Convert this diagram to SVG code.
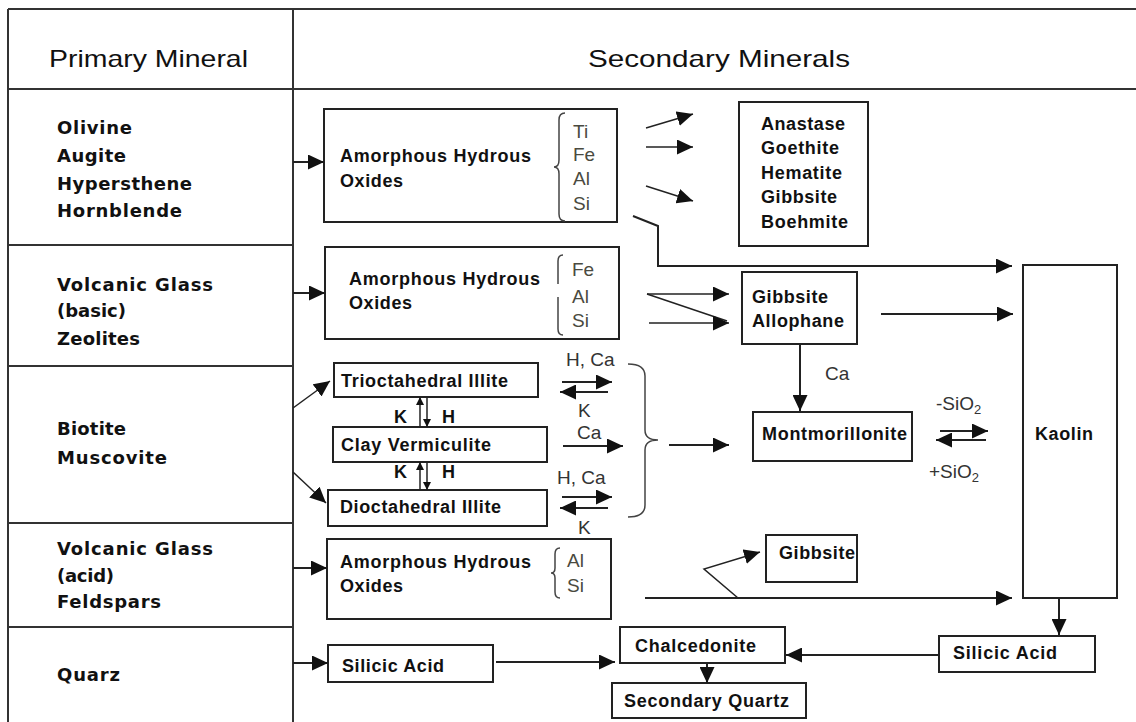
<svg xmlns="http://www.w3.org/2000/svg" width="1136" height="722" viewBox="0 0 1136 722">
<defs>
<marker id="ah" markerUnits="userSpaceOnUse" markerWidth="16" markerHeight="15" refX="16" refY="7.5" orient="auto"><path d="M0,0 L16,7.5 L0,15 z" fill="#111"/></marker>
<marker id="as" markerUnits="userSpaceOnUse" markerWidth="8" markerHeight="8" refX="8" refY="4" orient="auto"><path d="M0,0 L8,4 L0,8 z" fill="#111"/></marker>
</defs>
<style>
.frame{fill:none;stroke:#333;stroke-width:2}
.box{fill:#fff;stroke:#222;stroke-width:2}
.ln{fill:none;stroke:#222;stroke-width:2}
.thin{fill:none;stroke:#222;stroke-width:1.5}
.br{fill:none;stroke:#444;stroke-width:1.5}
.hd{font-family:"Liberation Sans",Arial,sans-serif;font-size:24px;fill:#111}
.pm{font-family:"DejaVu Sans",Verdana,sans-serif;font-weight:bold;font-size:18px;fill:#111}
.bx{font-family:"Liberation Sans",Arial,sans-serif;font-weight:bold;font-size:18px;fill:#111}
.el{font-family:"Liberation Sans",Arial,sans-serif;font-size:19px;fill:#4a4a40}
.lb{font-family:"Liberation Sans",Arial,sans-serif;font-size:19px;fill:#333}
</style>
<rect width="1136" height="722" fill="#fff"/>
<g id="table">
<path class="frame" d="M8,9 L1136,9 M8,89 L1136,89 M8,9 L8,722 M293,9 L293,722 M8,245 L293,245 M8,366 L293,366 M8,523 L293,523 M8,627 L293,627"/>
<text class="hd" x="49" y="67" textLength="199" lengthAdjust="spacingAndGlyphs">Primary Mineral</text>
<text class="hd" x="588" y="67" textLength="262" lengthAdjust="spacingAndGlyphs">Secondary  Minerals</text>
</g>
<g id="primary">
<text class="pm" x="57" y="134" textLength="75" lengthAdjust="spacing">Olivine</text>
<text class="pm" x="57" y="162" textLength="69" lengthAdjust="spacing">Augite</text>
<text class="pm" x="57" y="190" textLength="135" lengthAdjust="spacing">Hypersthene</text>
<text class="pm" x="57" y="217" textLength="125" lengthAdjust="spacing">Hornblende</text>
<text class="pm" x="57" y="291" textLength="156" lengthAdjust="spacing">Volcanic Glass</text>
<text class="pm" x="57" y="317" textLength="69" lengthAdjust="spacing">(basic)</text>
<text class="pm" x="57" y="345" textLength="83" lengthAdjust="spacing">Zeolites</text>
<text class="pm" x="57" y="435" textLength="69" lengthAdjust="spacing">Biotite</text>
<text class="pm" x="57" y="464" textLength="110" lengthAdjust="spacing">Muscovite</text>
<text class="pm" x="57" y="555" textLength="156" lengthAdjust="spacing">Volcanic Glass</text>
<text class="pm" x="57" y="582" textLength="57" lengthAdjust="spacing">(acid)</text>
<text class="pm" x="57" y="608" textLength="104" lengthAdjust="spacing">Feldspars</text>
<text class="pm" x="57" y="681" textLength="63" lengthAdjust="spacing">Quarz</text>
</g>
<g id="oxides1">
<rect class="box" x="324" y="109" width="293" height="113"/>
<text class="bx" x="340" y="162" textLength="191" lengthAdjust="spacing">Amorphous Hydrous</text>
<text class="bx" x="340" y="187" textLength="63" lengthAdjust="spacing">Oxides</text>
<path class="br" d="M565,113 Q559,113 559,120 L559,160 Q559,167 554,167 Q559,167 559,174 L559,214 Q559,221 565,221"/>
<text class="el" x="573" y="138">Ti</text>
<text class="el" x="573" y="161">Fe</text>
<text class="el" x="573" y="185">Al</text>
<text class="el" x="573" y="210">Si</text>
</g>
<g id="iron-oxides">
<rect class="box" x="739" y="102" width="129" height="144"/>
<text class="bx" x="761" y="130" textLength="84" lengthAdjust="spacing">Anastase</text>
<text class="bx" x="761" y="154" textLength="78" lengthAdjust="spacing">Goethite</text>
<text class="bx" x="761" y="179" textLength="81" lengthAdjust="spacing">Hematite</text>
<text class="bx" x="761" y="203" textLength="76" lengthAdjust="spacing">Gibbsite</text>
<text class="bx" x="761" y="228" textLength="87" lengthAdjust="spacing">Boehmite</text>
</g>
<g id="oxides2">
<rect class="box" x="325" y="247" width="294" height="92"/>
<text class="bx" x="349" y="285" textLength="191" lengthAdjust="spacing">Amorphous Hydrous</text>
<text class="bx" x="349" y="309" textLength="63" lengthAdjust="spacing">Oxides</text>
<path class="br" d="M563,255 Q558,255 558,261 L558,284 M558,297 L558,329 Q558,335 563,335"/>
<text class="el" x="572" y="276">Fe</text>
<text class="el" x="572" y="303">Al</text>
<text class="el" x="572" y="327">Si</text>
</g>
<g id="gibbsite-allophane">
<rect class="box" x="742" y="272" width="115" height="72"/>
<text class="bx" x="752" y="303" textLength="76" lengthAdjust="spacing">Gibbsite</text>
<text class="bx" x="752" y="327" textLength="92" lengthAdjust="spacing">Allophane</text>
</g>
<g id="kaolin">
<rect class="box" x="1023" y="265" width="94" height="333"/>
<text class="bx" x="1035" y="440" textLength="58" lengthAdjust="spacing">Kaolin</text>
</g>
<g id="trioctahedral">
<rect class="box" x="334" y="363" width="204" height="34"/>
<text class="bx" x="341" y="387" textLength="167" lengthAdjust="spacing">Trioctahedral Illite</text>
</g>
<g id="vermiculite">
<rect class="box" x="333" y="427" width="214" height="35"/>
<text class="bx" x="341" y="451" textLength="150" lengthAdjust="spacing">Clay Vermiculite</text>
</g>
<g id="dioctahedral">
<rect class="box" x="328" y="490" width="219" height="36"/>
<text class="bx" x="340" y="513" textLength="161" lengthAdjust="spacing">Dioctahedral Illite</text>
</g>
<g id="montmorillonite">
<rect class="box" x="753" y="412" width="159" height="49"/>
<text class="bx" x="762" y="440" textLength="145" lengthAdjust="spacing">Montmorillonite</text>
</g>
<g id="oxides4">
<rect class="box" x="327" y="539" width="284" height="80"/>
<text class="bx" x="340" y="568" textLength="191" lengthAdjust="spacing">Amorphous Hydrous</text>
<text class="bx" x="340" y="592" textLength="63" lengthAdjust="spacing">Oxides</text>
<path class="br" d="M560,548 Q555,548 555,554 L555,568 Q555,573 551,573 Q555,573 555,578 L555,592 Q555,598 560,598"/>
<text class="el" x="567" y="567">Al</text>
<text class="el" x="567" y="592">Si</text>
</g>
<g id="gibbsite2">
<rect class="box" x="766" y="535" width="91" height="47"/>
<text class="bx" x="779" y="559" textLength="76" lengthAdjust="spacing">Gibbsite</text>
</g>
<g id="silicic-left">
<rect class="box" x="328" y="645" width="165" height="37"/>
<text class="bx" x="342" y="672" textLength="102" lengthAdjust="spacing">Silicic Acid</text>
</g>
<g id="chalcedonite">
<rect class="box" x="620" y="627" width="165" height="36"/>
<text class="bx" x="635" y="652" textLength="121" lengthAdjust="spacing">Chalcedonite</text>
</g>
<g id="secondary-quartz">
<rect class="box" x="612" y="683" width="194" height="35"/>
<text class="bx" x="624" y="707" textLength="165" lengthAdjust="spacing">Secondary Quartz</text>
</g>
<g id="silicic-right">
<rect class="box" x="939" y="636" width="156" height="36"/>
<text class="bx" x="953" y="659" textLength="104" lengthAdjust="spacing">Silicic Acid</text>
</g>
<g id="connectors">
<path class="ln" d="M293,162 L324,162" marker-end="url(#ah)"/>
<path class="thin" d="M646,128 L693,114" marker-end="url(#ah)"/>
<path class="thin" d="M646,147 L693,147" marker-end="url(#ah)"/>
<path class="thin" d="M646,186 L693,201" marker-end="url(#ah)"/>
<path class="ln" d="M633,216 L658,226 L658,266 L1012,266" marker-end="url(#ah)"/>
<path class="ln" d="M293,293 L325,293" marker-end="url(#ah)"/>
<path class="thin" d="M647,294 L729,294" marker-end="url(#ah)"/>
<path class="thin" d="M647,294 L727,321"/>
<path class="thin" d="M649,323 L729,323" marker-end="url(#ah)"/>
<path class="ln" d="M881,314 L1013,314" marker-end="url(#ah)"/>
<path class="ln" d="M800,344 L800,411" marker-end="url(#ah)"/>
<path class="thin" d="M293,408 L330,381" marker-end="url(#ah)"/>
<path class="thin" d="M293,472 L326,503" marker-end="url(#ah)"/>
<path class="thin" d="M420,427 L420,397" marker-end="url(#as)"/>
<path class="thin" d="M427,397 L427,427" marker-end="url(#as)"/>
<path class="thin" d="M420,490 L420,462" marker-end="url(#as)"/>
<path class="thin" d="M427,462 L427,490" marker-end="url(#as)"/>
<path class="ln" d="M562,382 L612,382" marker-end="url(#ah)"/>
<path class="ln" d="M608,392 L560,392" marker-end="url(#ah)"/>
<path class="ln" d="M563,446 L623,446" marker-end="url(#ah)"/>
<path class="ln" d="M562,497 L612,497" marker-end="url(#ah)"/>
<path class="ln" d="M608,508 L560,508" marker-end="url(#ah)"/>
<path class="br" d="M628,364 Q645,364 645,376 L645,430 Q645,440 658,440 Q645,440 645,450 L645,505 Q645,517 628,517"/>
<path class="ln" d="M669,445 L729,445" marker-end="url(#ah)"/>
<path class="ln" d="M940,431 L988,431" marker-end="url(#ah)"/>
<path class="ln" d="M986,440 L936,440" marker-end="url(#ah)"/>
<path class="ln" d="M293,568 L327,568" marker-end="url(#ah)"/>
<path class="ln" d="M645,598 L1012,598" marker-end="url(#ah)"/>
<path class="thin" d="M738,598 L704,569 L760,552" marker-end="url(#ah)"/>
<path class="ln" d="M1059,598 L1059,635" marker-end="url(#ah)"/>
<path class="ln" d="M293,663 L328,663" marker-end="url(#ah)"/>
<path class="ln" d="M496,662 L615,662" marker-end="url(#ah)"/>
<path class="ln" d="M939,655 L786,655" marker-end="url(#ah)"/>
<path class="ln" d="M707,663 L707,683" marker-end="url(#ah)"/>
</g>
<g id="labels">
<text class="lb" x="566" y="366">H, Ca</text>
<text class="lb" x="578" y="417">K</text>
<text class="lb" x="577" y="439">Ca</text>
<text class="lb" x="557" y="484">H, Ca</text>
<text class="lb" x="578" y="534">K</text>
<text class="bx" x="394" y="423">K</text>
<text class="bx" x="442" y="423">H</text>
<text class="bx" x="394" y="478">K</text>
<text class="bx" x="442" y="478">H</text>
<text class="lb" x="825" y="380">Ca</text>
<text class="lb" x="936" y="410">-SiO<tspan font-size="13" dy="4">2</tspan></text>
<text class="lb" x="929" y="478">+SiO<tspan font-size="13" dy="4">2</tspan></text>
</g>
</svg>
